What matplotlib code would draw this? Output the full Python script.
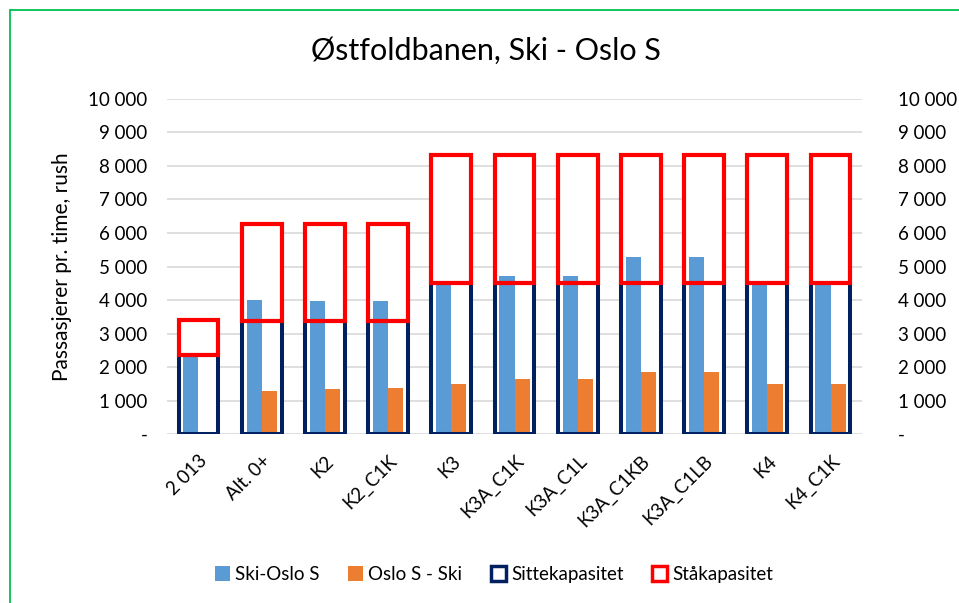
import matplotlib.pyplot as plt
from matplotlib.patches import Patch, Rectangle
from matplotlib.ticker import FuncFormatter, MultipleLocator

plt.rcParams['font.family'] = ['Lato', 'DejaVu Sans']

categories = ['2 013', 'Alt. 0+', 'K2', 'K2_C1K', 'K3', 'K3A_C1K', 'K3A_C1L',
              'K3A_C1KB', 'K3A_C1LB', 'K4', 'K4_C1K']
ski_oslo = [2330, 4000, 3960, 3960, 4480, 4720, 4720, 5280, 5280, 4480, 4480]
oslo_ski = [0, 1290, 1350, 1370, 1490, 1640, 1640, 1850, 1850, 1510, 1490]
sitte = [2370, 3370, 3370, 3370, 4500, 4500, 4500, 4500, 4500, 4500, 4500]
staa = [1030, 2900, 2900, 2900, 3830, 3830, 3830, 3830, 3830, 3830, 3830]

blue = '#5B9BD5'
orange = '#ED7D31'
navy = '#002060'
red = '#FF0000'

fig = plt.figure(figsize=(9.59, 6.03), dpi=100)
ax = fig.add_axes([0.174, 0.280, 0.725, 0.556])

x = list(range(len(categories)))
cap_w = 0.63
bw = 0.24

# white fill of capacity boxes, behind passenger bars
ax.bar(x, sitte, width=cap_w, color='white', zorder=2)
ax.bar(x, staa, bottom=sitte, width=cap_w, color='white', zorder=2)

ax.bar([i - bw / 2 for i in x], ski_oslo, width=bw, color=blue, zorder=3)
ax.bar([i + bw / 2 for i in x], oslo_ski, width=bw, color=orange, zorder=3)

# outlines on top
ax.bar(x, sitte, width=cap_w, facecolor='none', edgecolor=navy, linewidth=2.9, zorder=4)
ax.bar(x, staa, bottom=sitte, width=cap_w, facecolor='none', edgecolor=red, linewidth=3.0, zorder=5)

ax.set_xlim(-0.5, len(categories) - 0.5)
ax.set_ylim(0, 10000)
ax.yaxis.set_major_locator(MultipleLocator(1000))


def fmt(v, pos):
    if v == 0:
        return '-'
    return '{:,.0f}'.format(v).replace(',', ' ')


ax.yaxis.set_major_formatter(FuncFormatter(fmt))
ax.grid(axis='y', color='#D9D9D9', linewidth=1.2, zorder=0)
ax.set_axisbelow(True)
for s in ax.spines.values():
    s.set_visible(False)
ax.tick_params(axis='both', length=0, labelsize=13.5, pad=14)
ax.tick_params(axis='x', pad=13)
ax.set_xticks(x)
ax.set_xticklabels(categories, rotation=45, ha='right', rotation_mode='anchor')

ax2 = ax.twinx()
ax2.set_ylim(ax.get_ylim())
ax2.yaxis.set_major_locator(MultipleLocator(1000))
ax2.yaxis.set_major_formatter(FuncFormatter(fmt))
for s in ax2.spines.values():
    s.set_visible(False)
ax2.tick_params(axis='y', length=0, labelsize=13.5, pad=26)

ax.set_ylabel('Passasjerer pr. time, rush', fontsize=15, labelpad=12)
fig.text(0.507, 0.915, 'Østfoldbanen, Ski - Oslo S', ha='center', va='center', fontsize=22)

handles = [
    Patch(facecolor=blue, edgecolor='none'),
    Patch(facecolor=orange, edgecolor='none'),
    Patch(facecolor='white', edgecolor=navy, linewidth=2.5),
    Patch(facecolor='white', edgecolor=red, linewidth=2.5),
]
fig.legend(handles, ['Ski-Oslo S', 'Oslo S - Ski', 'Sittekapasitet', 'Ståkapasitet'],
           loc='center', bbox_to_anchor=(0.515, 0.047), ncol=4, frameon=False,
           fontsize=13.5, handlelength=0.8, handleheight=0.8, handletextpad=0.3,
           columnspacing=1.5)

fig.patches.append(Rectangle((10 / 959, -0.1), 1.2, 1 - 10 / 603 + 0.1,
                             transform=fig.transFigure, fill=False,
                             edgecolor='#00C050', linewidth=1.3))

fig.savefig('out.png', dpi=100)
